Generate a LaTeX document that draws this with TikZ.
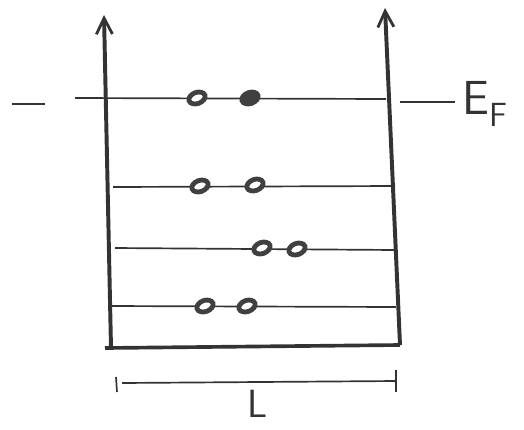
\documentclass[tikz,border=0pt]{standalone}
\usepackage{tikz}
\usetikzlibrary{arrows.meta,shapes.geometric}

\begin{document}
\begin{tikzpicture}[x=0.025cm, y=-0.025cm,
    wall/.style={draw=black!80, line width=2.8pt, -{Straight Barb[length=4mm, width=4mm, line width=2pt]}},
    floor/.style={draw=black!80, line width=2.6pt},
    level/.style={draw=black!80, line width=1.2pt},
    electron/.style={ellipse, draw=black!75, fill=white, line width=3.4pt,
                inner sep=0pt, minimum width=4.2mm, minimum height=2.8mm, rotate=20},
    fullel/.style={electron, fill=black!75},
    dim/.style={draw=black!80, line width=1.2pt},
    lbl/.style={text=black!80, font=\sffamily\fontsize{34}{40}\selectfont},
]
\useasboundingbox (0,0) rectangle (524,429);

% --- Well ---
\coordinate (bl) at (111,348);
\coordinate (br) at (400,345);
\coordinate (tl) at (104,15);
\coordinate (tr) at (385,8);
\draw[wall] (bl) -- (tl);
\draw[wall] (br) -- (tr);
\draw[floor] (105,348) -- (br);

% --- Levels ---
\draw[level] (75,98) -- (386,99);
\draw[level] (113,187) -- (395,186);
\draw[level] (115,248) -- (396,250);
\draw[level] (110,306) -- (396,307);

% --- Fermi level marks ---
\draw[level] (12,104) -- (45,104);
\draw[level] (400,102) -- (455,102);
\node[lbl, anchor=west] (ef) at (458,104) {E\textsubscript{F}};

% --- Electrons ---
\node[electron] (e1) at (197,98) {};
\node[fullel]   (e2) at (250,98) {};
\node[electron] (e3) at (200,186) {};
\node[electron] (e4) at (255,185) {};
\node[electron] (e5) at (262,248) {};
\node[electron] (e6) at (297,249) {};
\node[electron] (e7) at (205,306) {};
\node[electron] (e8) at (247,306) {};

% --- Width ---
\coordinate (da) at (122,383);
\coordinate (db) at (396,381);
\draw[dim] (da) -- (db);
\draw[dim] (116,377) -- (117,392);
\draw[dim] (396,370) -- (396,392);
\node[lbl, font=\sffamily\fontsize{28}{32}\selectfont, anchor=base, inner sep=0pt] (len) at (258,417) {L};

\end{tikzpicture}
\end{document}
